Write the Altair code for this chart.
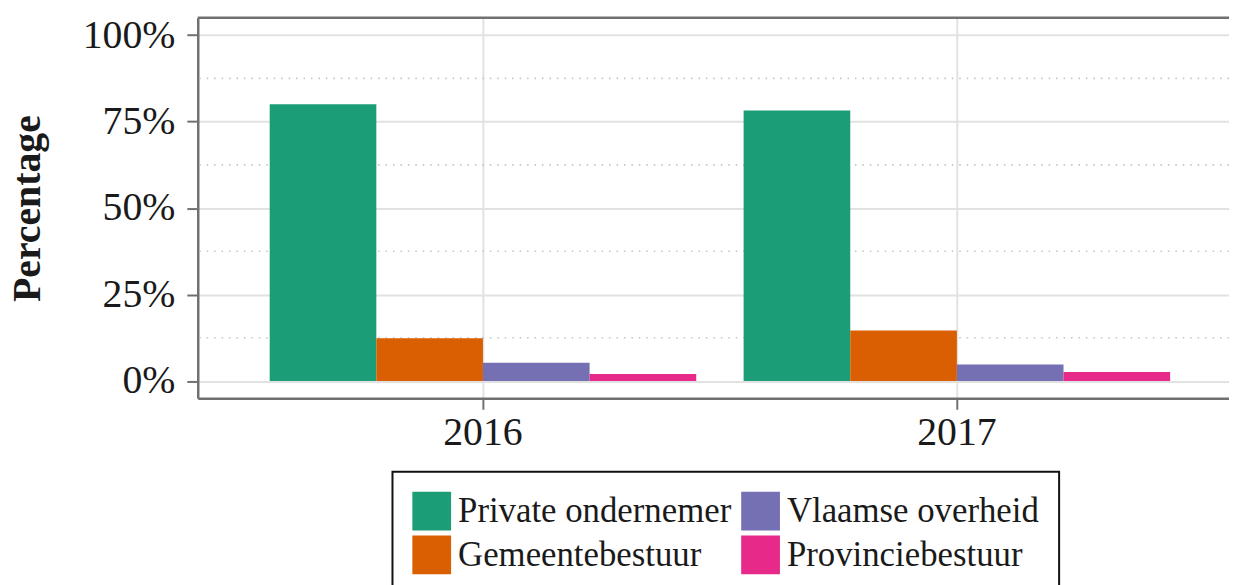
import altair as alt
import pandas as pd

years = ["2016", "2017"]
categories = ["Private ondernemer", "Gemeentebestuur", "Vlaamse overheid", "Provinciebestuur"]
values_2016 = [80.0, 12.4, 5.3, 2.0]
values_2017 = [78.2, 14.6, 4.8, 2.6]
colors = ["#1b9e77", "#d95f02", "#7570b3", "#e7298a"]
y_ticks = [0, 25, 50, 75, 100]
minor_ticks = [12.5, 37.5, 62.5, 87.5]
y_domain = [-5, 105]

rows = []
for yr, vals in zip(years, [values_2016, values_2017]):
    for c, v in zip(categories, vals):
        rows.append({"year": yr, "category": c, "pct": v})
df = pd.DataFrame(rows)
minor_df = pd.DataFrame({"pct": minor_ticks})
top_df = pd.DataFrame({"pct": [y_domain[1]]})

FONT = "Liberation Serif"
W, H = 1038, 383

yscale = alt.Scale(domain=y_domain, nice=False, zero=False)
y_axis = alt.Axis(
    title="Percentage", titleFont=FONT, titleFontSize=40, titleFontWeight="bold",
    titleColor="#1a1a1a", titleAngle=-90, titleX=-159, titleY=H / 2,
    titleAlign="center", titleBaseline="alphabetic",
    values=y_ticks, labelExpr="datum.value + '%'",
    labelFontSize=40, labelFont=FONT, labelColor="#1a1a1a", labelPadding=12,
    tickSize=11, tickWidth=2, tickColor="#707070",
    domainColor="#707070", domainWidth=2.5,
    grid=True, gridColor="#e2e2e2", gridWidth=2,
)
Y = alt.Y("pct:Q", scale=yscale, axis=y_axis)

minor = alt.Chart(minor_df).mark_rule(
    color="#c4c4c4", strokeWidth=1.6, strokeDash=[1.5, 6]
).encode(y=Y)

bars = alt.Chart(df).mark_bar(strokeWidth=0).encode(
    x=alt.X(
        "year:N",
        sort=years,
        scale=alt.Scale(paddingInner=0.1, paddingOuter=0.138, align=0.55),
        axis=alt.Axis(
            title=None, labelFontSize=40, labelFont=FONT, labelColor="#1a1a1a",
            labelAngle=0, labelBaseline="alphabetic", labelPadding=35,
            tickSize=11, tickWidth=2, tickColor="#707070",
            domainColor="#707070", domainWidth=2.5,
            grid=True, gridColor="#e2e2e2", gridWidth=2,
        ),
    ),
    xOffset=alt.XOffset("category:N", scale=alt.Scale(domain=categories, paddingInner=0, paddingOuter=0)),
    y=Y,
    color=alt.Color(
        "category:N",
        scale=alt.Scale(domain=categories, range=colors),
        legend=alt.Legend(
            title=None, orient="none", legendX=196, legendY=457,
            columns=2, columnPadding=9, rowPadding=5,
            padding=20, strokeColor="#111111", fillColor="white",
            symbolType="square", symbolSize=1521, symbolStrokeWidth=0, symbolOpacity=1,
            labelFont=FONT, labelFontSize=35, labelColor="#1a1a1a", labelLimit=600,
            labelOffset=7,
        ),
    ),
)

topline = alt.Chart(top_df).mark_rule(
    color="#707070", strokeWidth=2.5
).encode(y=Y)

chart = alt.layer(minor, bars, topline).properties(
    width=W, height=H,
    autosize=alt.AutoSizeParams(type="none"),
    padding={"left": 191, "top": 8, "right": 0, "bottom": 186},
).configure_view(stroke=None).configure_legend(strokeWidth=2)

chart.save("out.html", embed_options={"renderer": "svg", "actions": False})
